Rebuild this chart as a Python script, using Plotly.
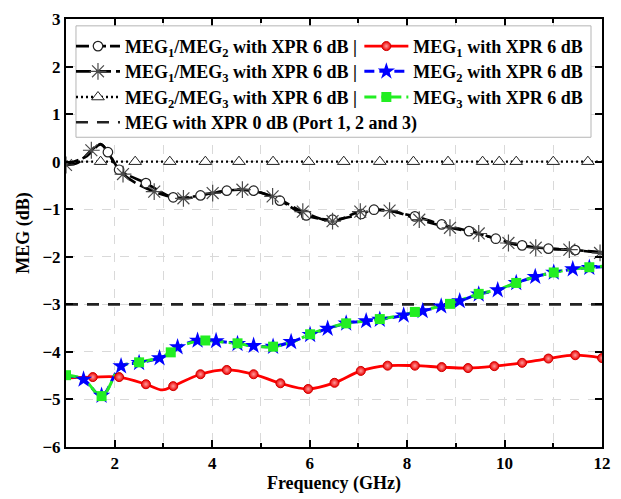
import plotly.graph_objects as go

# ---- data -------------------------------------------------------------
# MEG1/MEG2 ratio (XPR 6 dB)
f_12 = [1.00, 1.40, 1.71, 1.86, 2.09, 2.64, 3.20, 3.76, 4.30, 4.85, 5.39, 5.93,
        6.47, 7.06, 7.32, 8.16, 8.71, 9.27, 9.82, 10.36, 10.90, 11.45, 12.00]
meg_12 = [-0.05, 0.10, 0.36, 0.20, -0.17, -0.45, -0.75, -0.71, -0.61, -0.61, -0.82, -1.13,
          -1.22, -1.10, -1.01, -1.15, -1.32, -1.46, -1.62, -1.76, -1.83, -1.86, -1.90]
mark_12 = [3, 4, 5, 6, 7, 8, 9, 10, 11, 12, 13, 14, 15, 16, 17, 18, 19, 20, 21]

# MEG1/MEG3 ratio (XPR 6 dB)
f_13 = [1.00, 1.25, 1.52, 1.71, 1.86, 2.17, 2.81, 3.41, 4.01, 4.62, 5.24, 5.86, 6.47,
        7.04, 7.64, 8.25, 8.88, 9.47, 10.08, 10.64, 11.33, 11.96]
meg_13 = [-0.07, -0.02, 0.24, 0.37, 0.20, -0.26, -0.63, -0.77, -0.66, -0.59, -0.73, -1.05, -1.25,
          -1.05, -1.03, -1.22, -1.39, -1.51, -1.71, -1.81, -1.85, -1.92]
mark_13 = [0, 2, 5, 6, 7, 8, 9, 10, 11, 12, 13, 14, 15, 16, 17, 18, 19, 20, 21]

# MEG2/MEG3 ratio (XPR 6 dB)
f_23 = [1.00, 1.71, 2.42, 3.13, 3.86, 4.55, 5.25, 5.98, 6.70, 7.44, 8.13, 8.84,
        9.55, 9.89, 10.24, 11.00, 11.71, 12.00]
meg_23 = [0.00, 0.00, 0.00, 0.00, 0.00, 0.00, 0.00, 0.00, 0.00, 0.00, 0.00, 0.00,
          0.00, 0.00, 0.00, 0.00, 0.00, 0.00]
mark_23 = [1, 2, 3, 4, 5, 6, 7, 8, 9, 10, 11, 12, 13, 14, 15, 16]

# MEG1 (XPR 6 dB)
f_1 = [1.00, 1.55, 2.09, 2.64, 2.98, 3.20, 3.76, 4.30, 4.85, 5.40, 5.97, 6.51, 7.05,
       7.60, 8.16, 8.71, 9.25, 9.79, 10.36, 10.90, 11.45, 12.00]
meg_1 = [-4.55, -4.53, -4.53, -4.68, -4.80, -4.72, -4.47, -4.38, -4.47, -4.66, -4.78, -4.65, -4.40,
         -4.29, -4.29, -4.32, -4.34, -4.30, -4.23, -4.14, -4.07, -4.13]
mark_1 = [1, 2, 3, 5, 6, 7, 8, 9, 10, 11, 12, 13, 14, 15, 16, 17, 18, 19, 20, 21]

# MEG2 and MEG3 (XPR 6 dB)
f_port = [1.00, 1.36, 1.73, 2.13, 2.50, 2.92, 3.15, 3.29, 3.70, 3.86, 4.08, 4.52, 4.85,
          5.25, 5.62, 6.01, 6.37, 6.75, 7.16, 7.44, 7.93, 8.16, 8.32, 8.70, 8.88, 9.08,
          9.47, 9.86, 10.24, 10.63, 11.01, 11.40, 11.74, 12.00]
meg_2 = [-4.50, -4.58, -4.92, -4.30, -4.23, -4.13, -4.02, -3.90, -3.76, -3.76, -3.77, -3.83, -3.87,
         -3.89, -3.79, -3.64, -3.51, -3.40, -3.35, -3.32, -3.23, -3.16, -3.14, -3.04, -2.99, -2.93,
         -2.79, -2.70, -2.55, -2.42, -2.33, -2.26, -2.23, -2.21]
meg_3 = [-4.49, -4.57, -4.93, -4.31, -4.22, -4.12, -4.01, -3.91, -3.77, -3.76, -3.78, -3.82, -3.88,
         -3.89, -3.80, -3.63, -3.50, -3.40, -3.35, -3.31, -3.22, -3.16, -3.13, -3.03, -2.99, -2.92,
         -2.78, -2.69, -2.55, -2.42, -2.33, -2.26, -2.22, -2.20]
mark_2 = [1, 2, 3, 4, 5, 7, 8, 10, 11, 12, 13, 14, 15, 16, 17, 18, 19, 20, 22, 23, 25, 26,
          27, 28, 29, 30, 31, 32]
mark_3 = [0, 2, 4, 6, 9, 11, 13, 15, 17, 19, 21, 24, 26, 28, 30, 32]

# MEG with XPR 0 dB (all ports)
f_0 = [1.0, 12.0]
meg_0 = [-3.0, -3.0]

# legend labels
names = {
    "r12": "MEG<sub>1</sub>/MEG<sub>2</sub> with XPR 6 dB |",
    "r13": "MEG<sub>1</sub>/MEG<sub>3</sub> with XPR 6 dB |",
    "r23": "MEG<sub>2</sub>/MEG<sub>3</sub> with XPR 6 dB |",
    "m1": "MEG<sub>1</sub> with XPR 6 dB",
    "m2": "MEG<sub>2</sub> with XPR 6 dB",
    "m3": "MEG<sub>3</sub> with XPR 6 dB",
    "m0": "MEG with XPR 0 dB (Port 1, 2 and 3)",
}

FONT = "Liberation Serif"

# ---- styles -----------------------------------------------------------
styles = {
    "r12": dict(line=dict(color="black", width=2.6, dash="13px,4px"),
                marker=dict(symbol="circle", size=9.5, color="white",
                            line=dict(color="#222", width=1.2))),
    "r13": dict(line=dict(color="black", width=2.6, dash="15px,5px"),
                marker=dict(symbol="asterisk-open", size=14, color="#4a4a4a",
                            line=dict(color="#4a4a4a", width=1.2))),
    "r23": dict(line=dict(color="black", width=2.4, dash="2px,3px"),
                marker=dict(symbol="triangle-up", size=11, color="white",
                            line=dict(color="#222", width=1))),
    "m1": dict(line=dict(color="#ff0000", width=2.8),
               marker=dict(symbol="circle", size=9, color="#ee0000",
                           gradient=dict(type="radial", color="#ff9c9c"),
                           line=dict(color="#d00000", width=1))),
    "m2": dict(line=dict(color="#0000ff", width=3, dash="10px,5px"),
               marker=dict(symbol="star", size=13, color="#0000ff",
                           line=dict(width=0))),
    "m3": dict(line=dict(color="#22ee22", width=3, dash="12px,5px,3px,5px"),
               marker=dict(symbol="square", size=10, color="#22ee22",
                           line=dict(width=0))),
    "m0": dict(line=dict(color="#222", width=2.6, dash="12px,9px"),
               marker=None),
}

fig = go.Figure()

# horizontal reference line
fig.add_trace(go.Scatter(x=f_0, y=meg_0, mode="lines", line=styles["m0"]["line"],
                         showlegend=False, hoverinfo="skip"))

# curves first, then their markers on top
curves = [
    ("r12", f_12, meg_12, mark_12),
    ("r13", f_13, meg_13, mark_13),
    ("r23", f_23, meg_23, mark_23),
    ("m1", f_1, meg_1, mark_1),
    ("m2", f_port, meg_2, mark_2),
    ("m3", f_port, meg_3, mark_3),
]
for key, fx, fy, idx in curves:
    fig.add_trace(go.Scatter(x=fx, y=fy, mode="lines", line_shape="spline",
                             line=styles[key]["line"], showlegend=False))
for key, fx, fy, idx in curves:
    fig.add_trace(go.Scatter(x=[fx[i] for i in idx], y=[fy[i] for i in idx],
                             mode="markers", marker=styles[key]["marker"], showlegend=False))

# one legend per entry, arranged as a 2-column table inside a framed box
LX, RX = 0.0093, 0.5473
entries = [
    ("r12", "legend", LX, 0.936),
    ("m1", "legend2", RX, 0.936),
    ("r13", "legend3", LX, 0.877),
    ("m2", "legend4", RX, 0.877),
    ("r23", "legend5", LX, 0.817),
    ("m3", "legend6", RX, 0.817),
    ("m0", "legend7", LX, 0.758),
]

legend_layout = {}
for key, lid, lx, ly in entries:
    st = styles[key]
    kw = dict(mode="lines+markers", marker=st["marker"]) if st["marker"] else dict(mode="lines")
    fig.add_trace(go.Scatter(x=[None], y=[None], name=names[key], line=st["line"],
                             legend=lid, showlegend=True, **kw))
    legend_layout[lid] = dict(
        x=lx, y=ly, xanchor="left", yanchor="middle", orientation="v",
        bgcolor="rgba(0,0,0,0)", borderwidth=0, itemwidth=44,
        font=dict(family=FONT, size=18, color="black", weight="bold"),
    )

axis_common = dict(
    showline=True, linecolor="black", linewidth=2, mirror="ticks",
    ticks="inside", ticklen=7, tickwidth=2, tickcolor="black",
    showgrid=True, gridcolor="#d9d9d9", gridwidth=1, griddash="dash",
    zeroline=False,
    tickfont=dict(family=FONT, size=17, color="black", weight="bold"),
)

fig.update_layout(
    width=621, height=499,
    margin=dict(l=66, r=16, t=10, b=51),
    paper_bgcolor="white", plot_bgcolor="white",
    xaxis=dict(axis_common, range=[1, 12], tick0=2, dtick=2,
               minor=dict(dtick=1, ticks="inside", ticklen=4, tickwidth=1.5,
                          tickcolor="black", showgrid=True, gridcolor="#d9d9d9",
                          griddash="dash"),
               title=dict(text="Frequency (GHz)", standoff=3,
                          font=dict(family=FONT, size=18, color="black", weight="bold"))),
    yaxis=dict(axis_common, range=[-6, 3], dtick=1,
               title=dict(text="MEG (dB)", standoff=8,
                          font=dict(family=FONT, size=18, color="black", weight="bold"))),
    shapes=[dict(type="rect", xref="paper", yref="paper",
                 x0=0.0186, x1=0.9795, y0=0.7237, y1=0.984,
                 fillcolor="white", line=dict(color="#b5b5b5", width=1), layer="above")],
    **legend_layout,
)

fig.write_html("out.html")
